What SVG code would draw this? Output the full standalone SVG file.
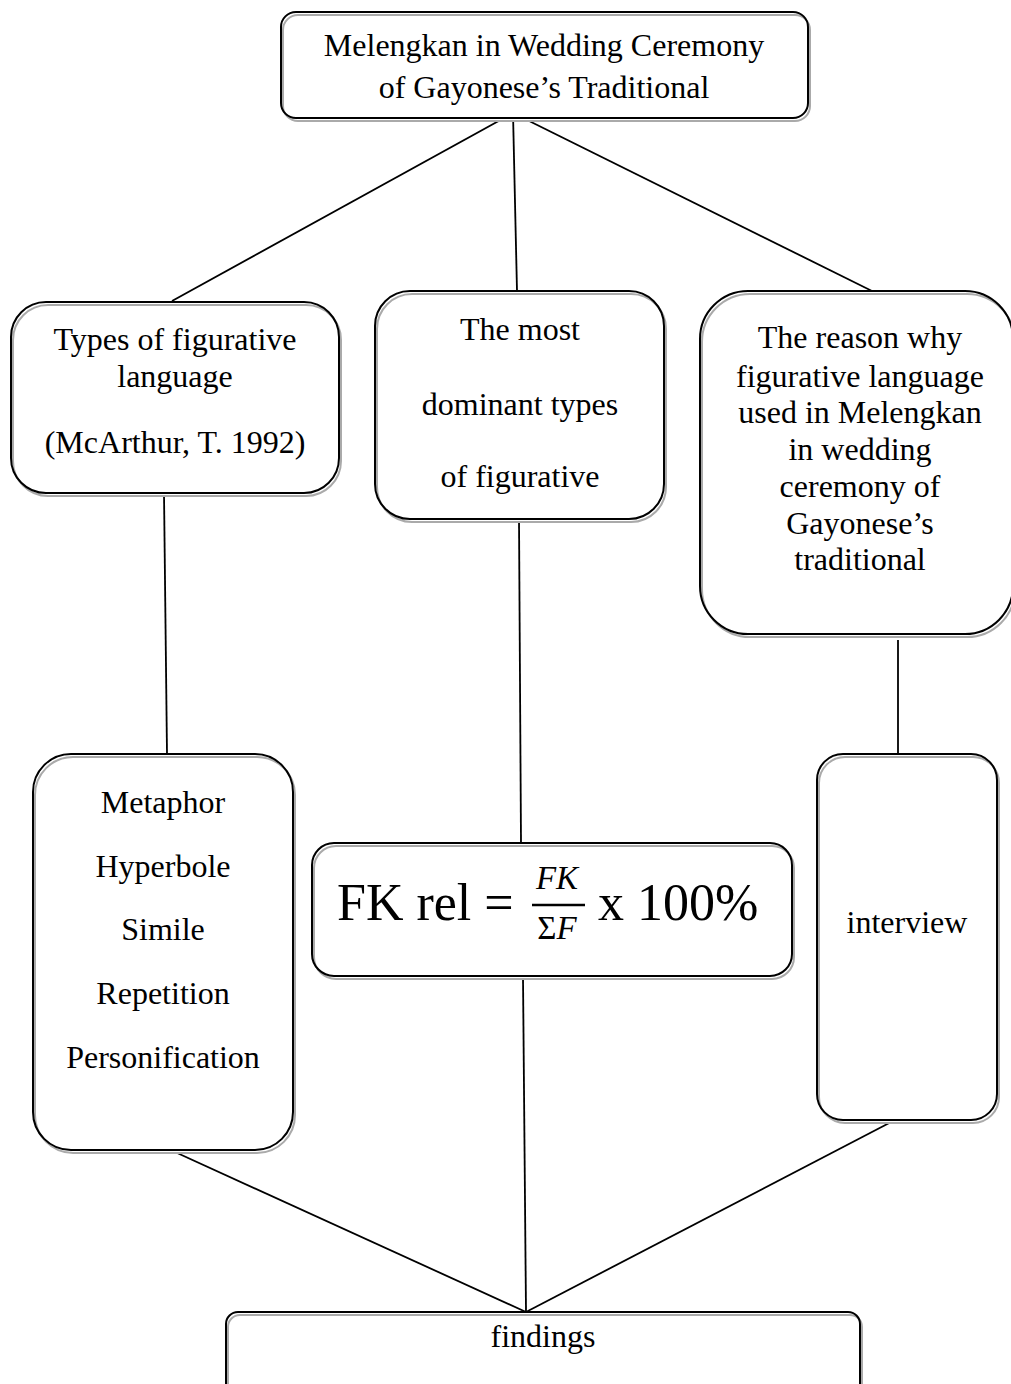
<svg xmlns="http://www.w3.org/2000/svg" width="1011" height="1384" viewBox="0 0 1011 1384">
<style>
.sh{fill:#fff;stroke:#aaa;stroke-width:2}
.bx{fill:none;stroke:#000;stroke-width:2}
.t{font-family:"Liberation Serif","Times New Roman",serif;font-size:32px;fill:#000;text-anchor:middle}
.m{font-family:"Liberation Serif","Times New Roman",serif;font-size:52px;fill:#000}
.mi{font-family:"Liberation Serif","Times New Roman",serif;font-size:33px;font-style:italic;fill:#000;text-anchor:middle}
.c{stroke:#000;stroke-width:1.8;fill:none}
</style>
<rect width="1011" height="1384" fill="#fff"/>
<g id="connectors">
<line class="c" x1="513" y1="113" x2="172" y2="301"/>
<line class="c" x1="513" y1="113" x2="517" y2="291"/>
<line class="c" x1="513" y1="113" x2="872" y2="291"/>
<line class="c" x1="164" y1="493" x2="167" y2="754"/>
<line class="c" x1="519" y1="519" x2="521" y2="843"/>
<line class="c" x1="898" y1="640" x2="898" y2="754"/>
<line class="c" x1="175" y1="1152" x2="526" y2="1312"/>
<line class="c" x1="523" y1="977" x2="526" y2="1312"/>
<line class="c" x1="895" y1="1120" x2="526" y2="1312"/>
</g>
<g id="node-top">
<rect class="sh" x="283" y="15" width="527" height="106" rx="15"/>
<rect class="bx" x="281" y="12" width="527" height="106" rx="15"/>
<text class="t" x="544" y="56">Melengkan in Wedding Ceremony</text>
<text class="t" x="544" y="98">of Gayonese’s Traditional</text>
</g>
<g id="node-types">
<rect class="sh" x="13" y="305" width="328" height="191" rx="35"/>
<rect class="bx" x="11" y="302" width="328" height="191" rx="35"/>
<text class="t" x="175" y="350">Types of figurative</text>
<text class="t" x="175" y="387">language</text>
<text class="t" x="175" y="453">(McArthur, T. 1992)</text>
</g>
<g id="node-dominant">
<rect class="sh" x="377" y="294" width="289" height="228" rx="35"/>
<rect class="bx" x="375" y="291" width="289" height="228" rx="35"/>
<text class="t" x="520" y="340">The most</text>
<text class="t" x="520" y="415">dominant types</text>
<text class="t" x="520" y="487">of figurative</text>
</g>
<g id="node-reason">
<rect class="sh" x="702" y="294" width="313" height="343" rx="48"/>
<rect class="bx" x="700" y="291" width="313" height="343" rx="48"/>
<text class="t" x="860" y="348">The reason why</text>
<text class="t" x="860" y="387">figurative language</text>
<text class="t" x="860" y="423">used in Melengkan</text>
<text class="t" x="860" y="460">in wedding</text>
<text class="t" x="860" y="497">ceremony of</text>
<text class="t" x="860" y="534">Gayonese’s</text>
<text class="t" x="860" y="570">traditional</text>
</g>
<g id="node-list">
<rect class="sh" x="35" y="757" width="260" height="396" rx="38"/>
<rect class="bx" x="33" y="754" width="260" height="396" rx="38"/>
<text class="t" x="163" y="813">Metaphor</text>
<text class="t" x="163" y="877">Hyperbole</text>
<text class="t" x="163" y="940">Simile</text>
<text class="t" x="163" y="1004">Repetition</text>
<text class="t" x="163" y="1068">Personification</text>
</g>
<g id="node-formula">
<rect class="sh" x="314" y="846" width="480" height="133" rx="22"/>
<rect class="bx" x="312" y="843" width="480" height="133" rx="22"/>
<text class="m" x="337" y="920">FK rel =</text>
<text class="mi" x="557" y="889">FK</text>
<line x1="532" y1="905" x2="585" y2="905" stroke="#000" stroke-width="2.4"/>
<text class="mi" x="557" y="939"><tspan font-style="normal">Σ</tspan>F</text>
<text class="m" x="598" y="920">x 100%</text>
</g>
<g id="node-interview">
<rect class="sh" x="819" y="757" width="180" height="366" rx="26"/>
<rect class="bx" x="817" y="754" width="180" height="366" rx="26"/>
<text class="t" x="907" y="933">interview</text>
</g>
<g id="node-findings">
<rect class="sh" x="228" y="1315" width="634" height="90" rx="12"/>
<rect class="bx" x="226" y="1312" width="634" height="90" rx="12"/>
<text class="t" x="543" y="1347">findings</text>
</g>
</svg>
